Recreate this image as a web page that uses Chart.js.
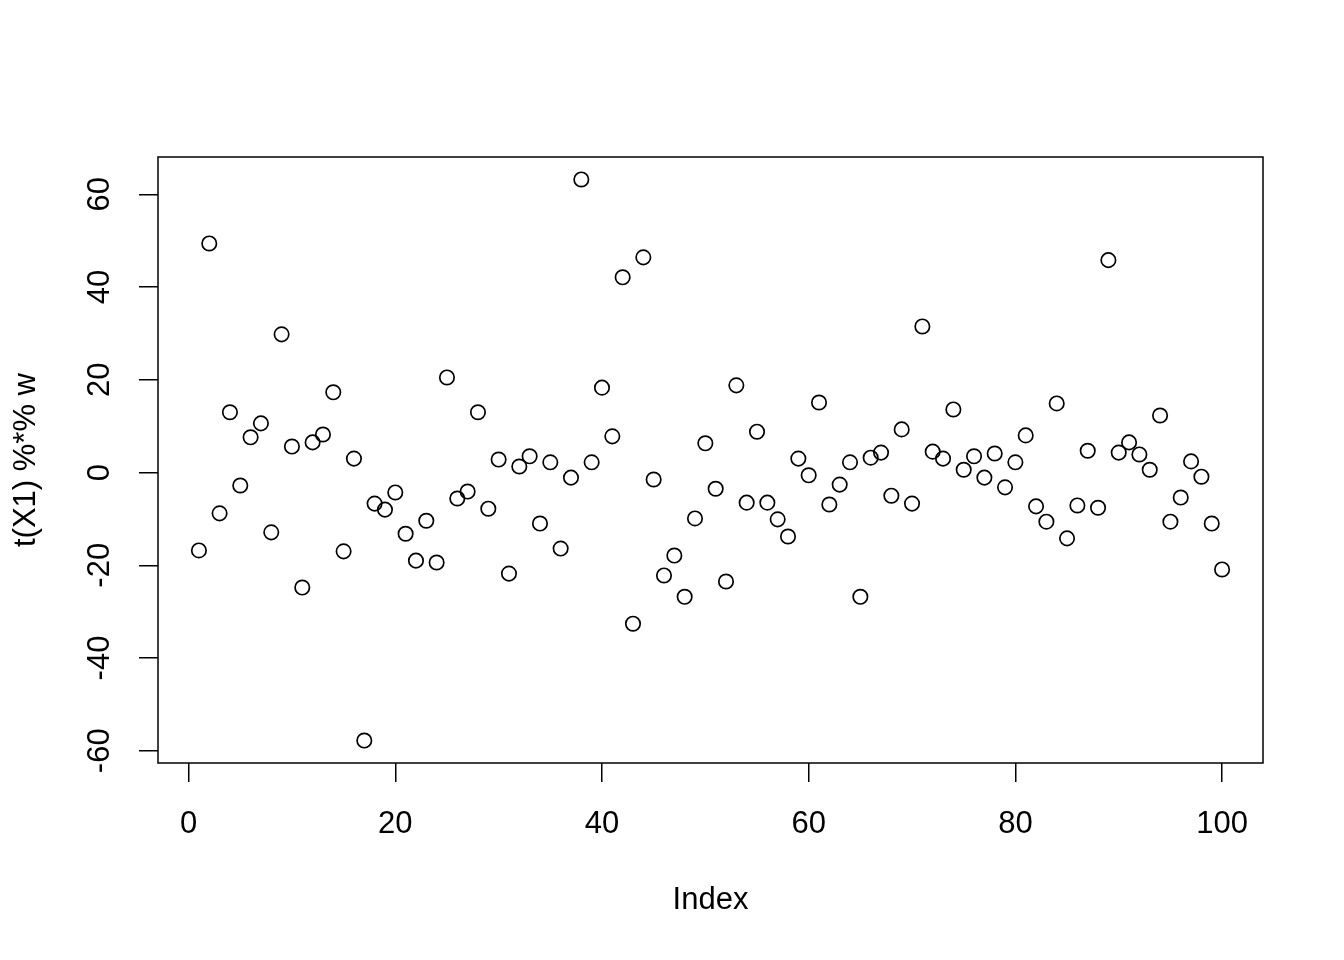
<!DOCTYPE html>
<html>
<head>
<meta charset="utf-8">
<script src="https://cdn.jsdelivr.net/npm/chart.js@4.4.1/dist/chart.umd.min.js"></script>
<style>
  html, body { margin: 0; padding: 0; background: #fff; }
  #wrap { width: 1344px; height: 960px; }
</style>
</head>
<body>
<div id="wrap"><canvas id="plot" width="1344" height="960"></canvas></div>
<script>
// x = observation index, y = t(X1) %*% w
const indexValues = [
  1, 2, 3, 4, 5, 6, 7, 8, 9, 10, 11, 12, 13, 14, 15, 16, 17, 18, 19, 20,
  21, 22, 23, 24, 25, 26, 27, 28, 29, 30, 31, 32, 33, 34, 35, 36, 37, 38, 39, 40,
  41, 42, 43, 44, 45, 46, 47, 48, 49, 50, 51, 52, 53, 54, 55, 56, 57, 58, 59, 60,
  61, 62, 63, 64, 65, 66, 67, 68, 69, 70, 71, 72, 73, 74, 75, 76, 77, 78, 79, 80,
  81, 82, 83, 84, 85, 86, 87, 88, 89, 90, 91, 92, 93, 94, 95, 96, 97, 98, 99, 100
];
const scoreValues = [
  -16.8, 49.4, -8.8, 13.0, -2.8, 7.6, 10.6, -12.9, 29.8, 5.6,
  -24.8, 6.5, 8.2, 17.3, -17.0, 3.0, -57.8, -6.7, -8.0, -4.3,
  -13.2, -19.0, -10.4, -19.4, 20.5, -5.6, -4.1, 13.0, -7.8, 2.8,
  -21.8, 1.3, 3.5, -11.0, 2.2, -16.4, -1.1, 63.2, 2.2, 18.3,
  7.8, 42.1, -32.6, 46.4, -1.5, -22.2, -17.9, -26.8, -9.9, 6.3,
  -3.5, -23.5, 18.8, -6.5, 8.8, -6.5, -10.1, -13.8, 3.0, -0.6,
  15.1, -6.9, -2.6, 2.2, -26.8, 3.2, 4.3, -5.0, 9.3, -6.7,
  31.5, 4.5, 3.0, 13.6, 0.6, 3.5, -1.1, 4.1, -3.2, 2.2,
  8.0, -7.3, -10.6, 14.9, -14.2, -7.1, 4.7, -7.6, 45.8, 4.3,
  6.5, 3.9, 0.6, 12.3, -10.6, -5.4, 2.4, -0.9, -11.0, -20.9
];
const xTickValues = [0, 20, 40, 60, 80, 100];
const yTickValues = [-60, -40, -20, 0, 20, 40, 60];
const xLabel = "Index";
const yLabel = "t(X1) %*% w";

const FONT = '31px "Liberation Sans", Arial, sans-serif';

// R pads the data range by 4% on each side
function paddedRange(arr) {
    const lo = Math.min(...arr), hi = Math.max(...arr);
    const pad = (hi - lo) * 0.04;
    return [lo - pad, hi + pad];
}
const [xMin, xMax] = paddedRange(indexValues);
const [yMin, yMax] = paddedRange(scoreValues);

const points = indexValues.map((v, i) => ({ x: v, y: scoreValues[i] }));

// box around plot + tick labels + axis titles, R style
const rDecor = {
    id: "rDecor",
    afterDraw(chart) {
        const ctx = chart.ctx;
        const a = chart.chartArea;
        const xs = chart.scales.x, ys = chart.scales.y;
        ctx.save();
        ctx.strokeStyle = "#000";
        ctx.lineWidth = 1.5;
        ctx.strokeRect(a.left, a.top, a.right - a.left, a.bottom - a.top);

        ctx.fillStyle = "#000";
        ctx.font = FONT;
        ctx.textAlign = "center";
        ctx.textBaseline = "middle";
        xTickValues.forEach(v => {
            ctx.fillText(String(v), xs.getPixelForValue(v), 824);
        });
        ctx.fillText(xLabel, (a.left + a.right) / 2, 900);

        yTickValues.forEach(v => {
            ctx.save();
            ctx.translate(100, ys.getPixelForValue(v));
            ctx.rotate(-Math.PI / 2);
            ctx.fillText(String(v), 0, 0);
            ctx.restore();
        });
        ctx.save();
        ctx.translate(26, (a.top + a.bottom) / 2);
        ctx.rotate(-Math.PI / 2);
        ctx.fillText(yLabel, 0, 0);
        ctx.restore();
        ctx.restore();
    }
};

const tickGrid = {
    display: true,
    drawOnChartArea: false,
    drawTicks: true,
    tickLength: 19,
    color: "#000",
    lineWidth: 1.5
};

new Chart(document.getElementById("plot").getContext("2d"), {
    type: "scatter",
    data: {
        datasets: [{
            data: points,
            pointStyle: "circle",
            pointRadius: 7.2,
            pointHoverRadius: 7.2,
            borderColor: "#000",
            backgroundColor: "rgba(0,0,0,0)",
            borderWidth: 1.7
        }]
    },
    options: {
        responsive: false,
        animation: false,
        events: [],
        layout: { padding: { top: 157, right: 81, left: 0, bottom: 0 } },
        plugins: {
            legend: { display: false },
            tooltip: { enabled: false }
        },
        scales: {
            x: {
                type: "linear",
                min: xMin,
                max: xMax,
                grid: tickGrid,
                border: { display: false },
                ticks: { display: false },
                afterBuildTicks: s => { s.ticks = xTickValues.map(v => ({ value: v })); },
                afterFit: s => { s.height = 960 - 763; }
            },
            y: {
                type: "linear",
                min: yMin,
                max: yMax,
                grid: tickGrid,
                border: { display: false },
                ticks: { display: false },
                afterBuildTicks: s => { s.ticks = yTickValues.map(v => ({ value: v })); },
                afterFit: s => { s.width = 158; }
            }
        }
    },
    plugins: [rDecor]
});
</script>
</body>
</html>
